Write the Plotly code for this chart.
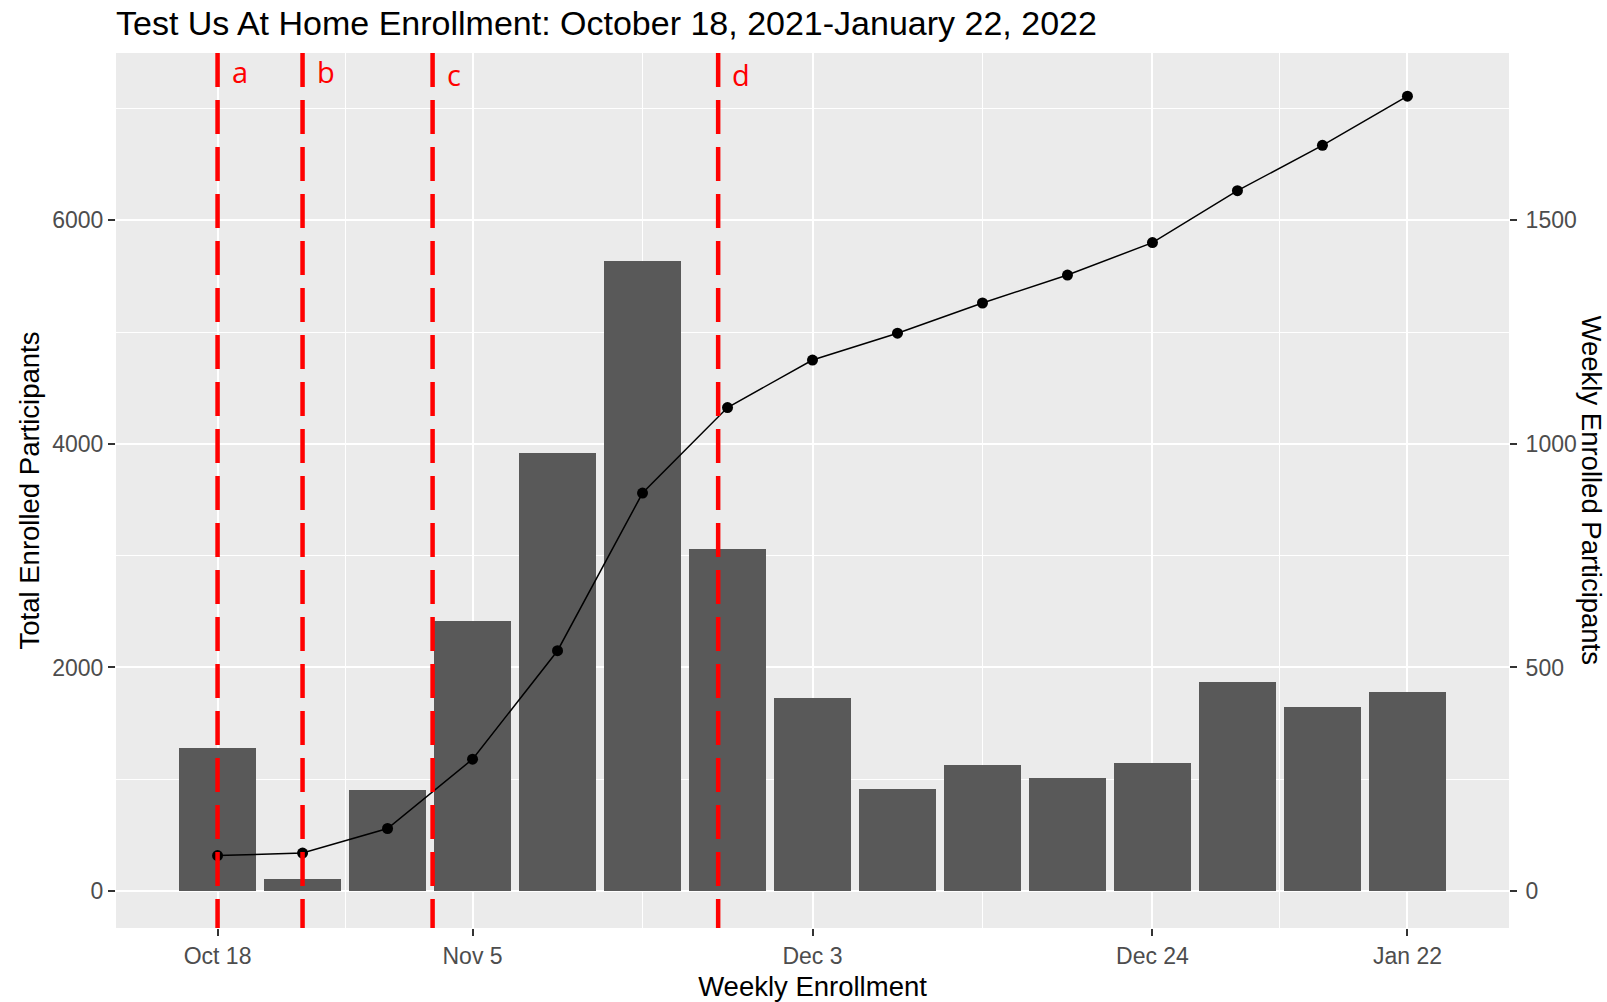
import plotly.graph_objects as go

# ---- data ----
week_index = list(range(15))
weekly_enrolled = [320, 27, 226, 605, 980, 1408, 765, 431, 228, 282, 253, 287, 467, 411, 445]
total_enrolled = [318, 340, 560, 1180, 2150, 3560, 4325, 4750, 4990, 5260, 5510, 5800, 6265, 6670, 7110]

tick_positions = [0, 3, 7, 11, 14]
tick_labels = ["Oct 18", "Nov 5", "Dec 3", "Dec 24", "Jan 22"]
minor_positions = [1.5, 5, 9, 12.5]

event_labels = ["a", "b", "c", "d"]
event_positions = [0, 1, 2.53, 5.89]
event_label_yshift = [0, 0, -3, -3]   # style: small vertical offsets of the letters

left_ticks = [0, 2000, 4000, 6000]
right_ticks = [0, 500, 1000, 1500]
right_minor = [250, 750, 1250, 1750]

FONT = "Liberation Sans"
TICK_COLOR = "#4D4D4D"

W, H = 1607, 1002
LEFT_RANGE = [-330, 7496]
RIGHT_RANGE = [LEFT_RANGE[0] / 4, LEFT_RANGE[1] / 4]   # secondary scale = total / 4

fig = go.Figure()

fig.add_trace(go.Bar(
    x=week_index, y=weekly_enrolled, width=0.9,
    marker=dict(color="#595959", line=dict(width=0)),
    yaxis="y", showlegend=False,
))
fig.add_trace(go.Scatter(
    x=week_index, y=total_enrolled, mode="lines+markers",
    line=dict(color="black", width=1.5),
    marker=dict(color="black", size=11),
    yaxis="y2", showlegend=False,
))

shapes = []
annotations = []
for lab, pos, ys in zip(event_labels, event_positions, event_label_yshift):
    shapes.append(dict(
        type="line", xref="x", yref="paper", x0=pos, x1=pos, y0=1, y1=0,
        line=dict(color="#FF0000", width=4.5, dash="34px,13px"), layer="above",
    ))
    annotations.append(dict(
        x=pos, y=0.9786, xref="x", yref="paper", text=lab, showarrow=False,
        xanchor="left", yanchor="middle", xshift=12, yshift=ys,
        font=dict(family="Open Sans", size=29, color="#FF0000"),
    ))

annotations.append(dict(
    x=1, y=0.5, xref="paper", yref="paper", text="Weekly Enrolled Participants",
    showarrow=False, textangle=90, xanchor="center", yanchor="middle", xshift=82,
    font=dict(family=FONT, size=27.5, color="black"),
))

fig.update_layout(
    width=W, height=H,
    margin=dict(l=116, r=98, t=53, b=74, autoexpand=False),
    paper_bgcolor="white", plot_bgcolor="#EBEBEB",
    bargap=0,
    title=dict(
        text="Test Us At Home Enrollment: October 18, 2021-January 22, 2022",
        x=0, xref="paper", xanchor="left", y=1 - 23 / H, yref="container", yanchor="middle",
        font=dict(family=FONT, size=34, color="black"),
    ),
    xaxis=dict(
        range=[-1.195, 15.195], tickmode="array", tickvals=tick_positions, ticktext=tick_labels,
        showgrid=True, gridcolor="white", gridwidth=2, zeroline=False, showline=False,
        ticks="outside", ticklen=7, tickwidth=1.5, tickcolor="#333333", automargin=False,
        tickfont=dict(family=FONT, size=23, color=TICK_COLOR),
        minor=dict(tickmode="array", tickvals=minor_positions, showgrid=True,
                   gridcolor="white", gridwidth=1.2, ticks=""),
        title=dict(text="Weekly Enrollment", font=dict(family=FONT, size=27.5, color="black"), standoff=9),
    ),
    yaxis=dict(
        side="right", range=RIGHT_RANGE, tickmode="array", tickvals=right_ticks,
        showgrid=True, gridcolor="white", gridwidth=2, zeroline=False, showline=False,
        ticks="outside", ticklen=7, tickwidth=1.5, tickcolor="#333333", automargin=False,
        ticklabelstandoff=4,
        tickfont=dict(family=FONT, size=23, color=TICK_COLOR),
        minor=dict(tickmode="array", tickvals=right_minor, showgrid=True,
                   gridcolor="white", gridwidth=1.2, ticks=""),
    ),
    yaxis2=dict(
        side="left", overlaying="y", range=LEFT_RANGE, tickmode="array", tickvals=left_ticks,
        showgrid=False, zeroline=False, showline=False, automargin=False,
        ticks="outside", ticklen=7, tickwidth=1.5, tickcolor="#333333",
        tickfont=dict(family=FONT, size=23, color=TICK_COLOR),
        title=dict(text="Total Enrolled Participants", font=dict(family=FONT, size=27.5, color="black"), standoff=4),
    ),
    shapes=shapes,
    annotations=annotations,
)

# remove the browser's default 8px body margin so the figure fills the window exactly
fig.write_html(
    "out.html",
    config={"displayModeBar": False},
    post_script="document.body.style.margin='0px'; document.body.style.overflow='hidden';",
)
